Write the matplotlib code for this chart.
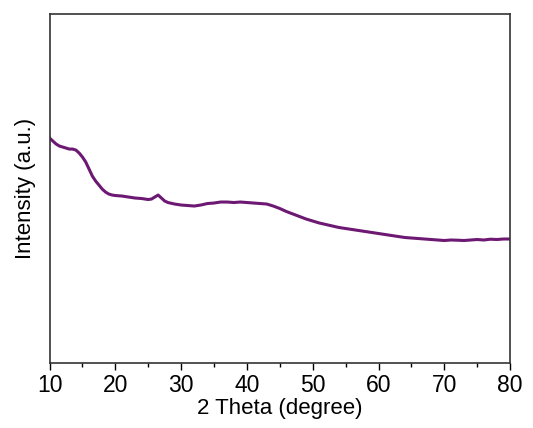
import matplotlib
matplotlib.use('Agg')
import matplotlib.pyplot as plt

two_theta = [10, 10.5, 11, 11.5, 12, 12.5, 13, 13.5, 14, 14.5, 15, 15.5, 16, 16.5,
             17, 17.5, 18, 18.5, 19, 19.5, 20, 21, 22, 23, 24, 25, 25.5, 26, 26.5,
             27, 27.5, 28, 29, 30, 31, 32, 33, 34, 35, 36, 37, 38, 39, 40, 41, 42,
             43, 44, 45, 46, 47, 48, 49, 50, 51, 52, 53, 54, 55, 56, 57, 58, 59,
             60, 61, 62, 63, 64, 65, 66, 67, 68, 69, 70, 71, 72, 73, 74, 75, 76,
             77, 78, 79, 80]
intensite = [2250, 2220, 2190, 2170, 2160, 2150, 2140, 2140, 2130, 2100, 2060, 2010,
             1940, 1870, 1820, 1780, 1740, 1710, 1690, 1680, 1675, 1670, 1660, 1650,
             1645, 1635, 1640, 1660, 1680, 1650, 1620, 1605, 1590, 1580, 1575, 1570,
             1580, 1595, 1600, 1610, 1610, 1605, 1610, 1605, 1600, 1595, 1590, 1570,
             1545, 1515, 1490, 1465, 1440, 1420, 1400, 1385, 1370, 1355, 1345, 1335,
             1325, 1315, 1305, 1295, 1285, 1275, 1265, 1255, 1250, 1245, 1240, 1235,
             1230, 1225, 1230, 1228, 1225, 1230, 1235, 1230, 1238, 1235, 1240, 1240]

x_ticks = [10, 20, 30, 40, 50, 60, 70, 80]

## Tracé
plt.rcParams['font.family'] = ['Liberation Sans', 'DejaVu Sans']
fig = plt.figure(figsize=(5.33, 4.28), dpi=100)
ax = fig.add_axes([0.093, 0.152, 0.864, 0.815])

ax.plot(two_theta, intensite, color='#6d1872', linewidth=2.2)

ax.set_xlim(10, 80)
ax.set_ylim(0, 3490)
ax.set_xticks(x_ticks)
ax.set_xticks([15, 25, 35, 45, 55, 65, 75], minor=True)
ax.set_yticks([])
ax.tick_params(axis='x', which='major', direction='out', length=5, width=1,
               labelsize=16.5, pad=3)
ax.tick_params(axis='x', which='minor', direction='out', length=3, width=1)
for sp in ax.spines.values():
    sp.set_linewidth(1.2)
    sp.set_color('#333333')

ax.set_xlabel('2 Theta (degree)', fontsize=16, labelpad=1)
ax.set_ylabel('Intensity (a.u.)', fontsize=16, labelpad=10)

fig.savefig('out.png', dpi=100)
